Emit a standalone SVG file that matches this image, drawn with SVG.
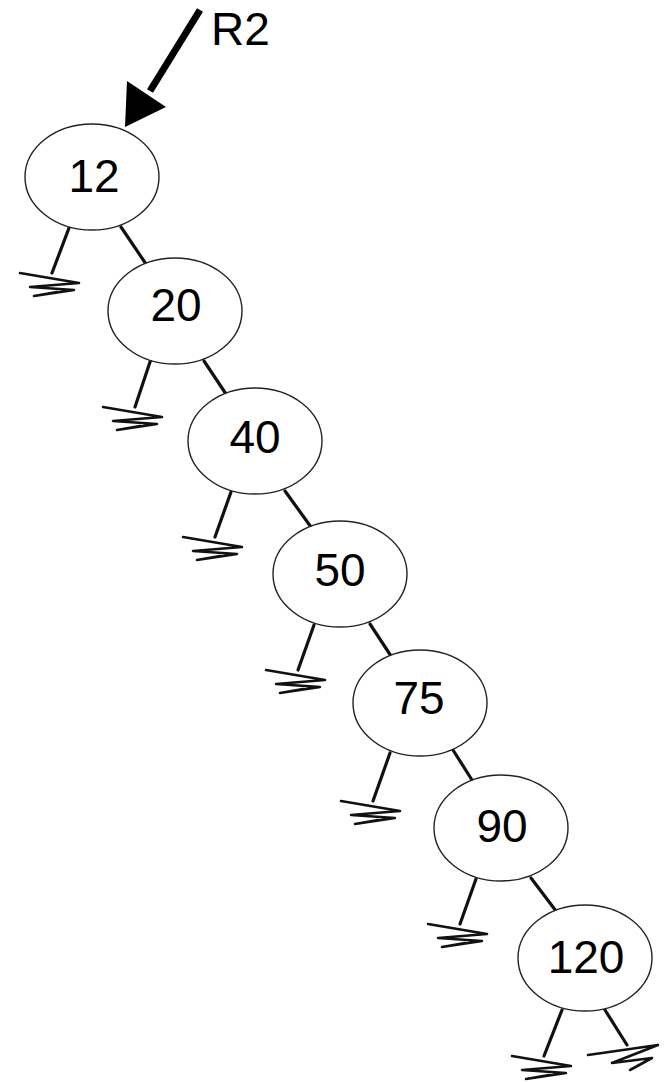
<svg xmlns="http://www.w3.org/2000/svg" xmlns:xlink="http://www.w3.org/1999/xlink" width="666" height="1082" viewBox="0 0 666 1082">
  <style>
    .node ellipse { fill: #ffffff; stroke: #222222; stroke-width: 1.4; }
    .node text { font-family: "Liberation Sans", Arial, sans-serif; font-size: 46px; fill: #000000; text-anchor: middle; }
    .edge { stroke: #111111; stroke-width: 3.2; fill: none; stroke-linecap: round; }
    .pointer { stroke: #000000; stroke-width: 7; fill: none; }
    .gnd { stroke: #111111; stroke-width: 2.6; fill: none; stroke-linejoin: round; stroke-linecap: round; }
    .label { font-family: "Liberation Sans", Arial, sans-serif; font-size: 46px; fill: #000000; }
  </style>
  <defs>
    <!-- null-pointer ground mark, anchored at the end of its stub -->
    <polyline id="nullL" class="gnd" points="-32,0 27,10 -22,14 22,17 -18,23 5,19"/>
    <polyline id="nullR" class="gnd" points="-39,10 31,0 -15,18 25,13 3,25"/>
  </defs>

  <!-- connectors -->
  <g id="connectors">
    <!-- R2 root pointer -->
    <line class="pointer" x1="200" y1="10" x2="150" y2="91"/>
    <polygon points="125,127 127,81 166,107" fill="#000000"/>

    <!-- child links -->
    <line class="edge" x1="121" y1="227" x2="146" y2="264"/>
    <line class="edge" x1="204" y1="361" x2="226" y2="394"/>
    <line class="edge" x1="285" y1="491" x2="311" y2="527"/>
    <line class="edge" x1="370" y1="624" x2="391" y2="656"/>
    <line class="edge" x1="453" y1="750" x2="472" y2="780"/>
    <line class="edge" x1="531" y1="878" x2="556" y2="911"/>

    <!-- empty left subtrees -->
    <line class="edge" x1="69" y1="228" x2="52" y2="273"/>
    <use xlink:href="#nullL" x="52" y="273"/>
    <line class="edge" x1="151" y1="359" x2="135" y2="407"/>
    <use xlink:href="#nullL" x="135" y="407"/>
    <line class="edge" x1="231" y1="492" x2="215" y2="537"/>
    <use xlink:href="#nullL" x="215" y="537"/>
    <line class="edge" x1="314" y1="625" x2="298" y2="670"/>
    <use xlink:href="#nullL" x="298" y="670"/>
    <line class="edge" x1="390" y1="753" x2="373" y2="801"/>
    <use xlink:href="#nullL" x="373" y="801"/>
    <line class="edge" x1="476" y1="879" x2="460" y2="924"/>
    <use xlink:href="#nullL" x="460" y="924"/>
    <line class="edge" x1="562" y1="1010" x2="544" y2="1056"/>
    <use xlink:href="#nullL" x="544" y="1056"/>

    <!-- empty right subtree of the last node -->
    <line class="edge" x1="605" y1="1010" x2="627" y2="1045"/>
    <use xlink:href="#nullR" x="627" y="1045"/>
  </g>

  <text class="label" x="211" y="45">R2</text>

  <g id="n12" class="node"><ellipse cx="92" cy="177" rx="67" ry="53"/><text x="94" y="192">12</text></g>
  <g id="n20" class="node"><ellipse cx="175" cy="311" rx="67" ry="53"/><text x="176" y="321">20</text></g>
  <g id="n40" class="node"><ellipse cx="255" cy="441" rx="67" ry="53"/><text x="255" y="453">40</text></g>
  <g id="n50" class="node"><ellipse cx="340" cy="574" rx="67" ry="53"/><text x="340" y="586">50</text></g>
  <g id="n75" class="node"><ellipse cx="420" cy="703" rx="67" ry="53"/><text x="419" y="714">75</text></g>
  <g id="n90" class="node"><ellipse cx="501" cy="828" rx="67" ry="53"/><text x="502" y="842">90</text></g>
  <g id="n120" class="node"><ellipse cx="585" cy="958" rx="67" ry="53"/><text x="586" y="973">120</text></g>
</svg>
